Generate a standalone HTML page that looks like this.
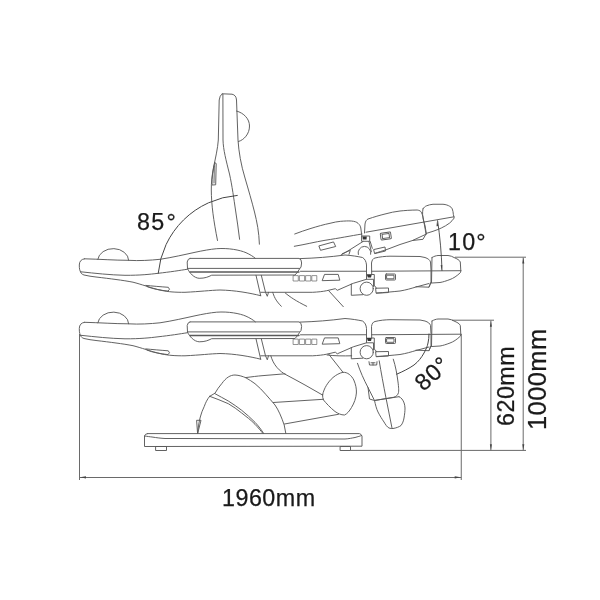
<!DOCTYPE html>
<html><head><meta charset="utf-8">
<style>
html,body{margin:0;padding:0;background:#fff;}
svg{display:block;will-change:transform;}
text{font-family:"Liberation Sans",sans-serif;fill:#1a1a1a;stroke:#1a1a1a;stroke-width:0.25;}
.d{stroke:#6a6a6a;stroke-width:1;fill:none;}
.a{stroke:#444;stroke-width:1.0;fill:none;}
.l{stroke:#5a5a5a;stroke-width:0.95;fill:none;stroke-linejoin:round;stroke-linecap:round;}
.k{fill:#333;stroke:none;}
</style></head><body>
<svg width="600" height="600" viewBox="0 0 600 600">
<defs>
<g id="flat">
  <!-- headrest top + hump -->
  <path d="M84.5 258.8 C100 259.2 115 260.3 128 260.3 C140 261 150 260.3 160 259.3 C172 257.5 185 254.5 195 252.3 C203 250.6 210 249.3 216.7 248.7 C228 247.8 240 250 246 252.7 C250 254.5 253 256.3 255.3 258.3"/>
  <path d="M84.5 258.8 Q79.4 259.5 79.3 265 Q79.2 271 80.8 272"/>
  <path d="M80.8 271.8 C95 273.3 110 275 125 275.3 C140 275.4 150 274.3 158 273.3 C170 272 180 270.4 187.5 269.2"/>
  <path d="M80.5 272 C81 273.5 82 274.3 84 275 C88 276 92 276.5 96 277 C103 277.8 110 278.7 116 279.5 C122 280.3 128 281.2 133 282.2 C137 283.2 141 284.5 146 286 C151 287.7 156 289.2 162 290.5 C168 291.8 175 292.4 185 292.3 C200 291.6 210 290.3 220 290 C235 290.3 250 293 260.7 295.7"/>
  <path d="M97.8 259.3 A15.5 12 0 0 1 128.7 260.3"/>
  <path d="M145.8 285.4 C152 286 160 286.7 168.3 287.3 Q170.8 289.3 168 291.1 C160 290.2 153 289 147 286.6"/>
  <!-- armrest -->
  <path d="M190 258.4 L299 258.4 Q301.6 259 301.6 263 Q301.5 268 299.5 269 Q298 272 295 275 L211.7 275.2 C208 277 205 278.3 199.2 278.3 C194 278 189.5 273 187.5 268.5 L187.2 262 Q187.8 258.5 190 258.4"/>
  <path d="M187.5 268.4 H299.5"/>
  <path d="M190 272 H299" style="stroke-width:1.4"/>
  <!-- seat top right of armrest -->
  <path d="M300 258.6 C315 258.2 330 257 345 255 C352 255.5 358 256.5 362.5 257.5 C365 259 366.2 261.5 366.5 265 L366.5 274.5"/>
  <path d="M300.5 271.3 L366.3 271.25 M371.7 271.25 L461 270.7"/>
  <path style="stroke-width:0.65" d="M293.5 275.6 h4.8 v5.4 h-4.8 z M299.8 275.6 h4.8 v5.4 h-4.8 z M306 275.6 h4.8 v5.4 h-4.8 z M312.2 275.6 h4.6 v5.4 h-4.6 z"/>
  <path d="M322.3 280.3 L324.5 274.4 L338.2 274.4 L339.7 279.8 Z"/>
  <!-- notch lines -->
  <path d="M256 275.3 L260.7 295.7 M261.3 275.3 L265.5 292.3 L267.3 296.3 L268.5 292.3"/>
  <path d="M260.7 292.3 L312.7 292.3 C318 292 323 291.5 326.7 290.7 L335.3 288.7 L337.3 290.3 L353.3 283.3 L366.5 279.3"/>
  <!-- joint -->
  <path d="M371.7 274.5 L371.5 263 C372 260 373 258.5 375 258 C380 256.8 385 256.3 390 256.2 C400 256.2 410 256.3 420 256.5 L425 257.5 C428 258.5 430 260 430.5 262 L431 270 L431 282 L429 287"/>
  <path class="k" d="M366.8 274.2 L371.8 274.2 L371 277.6 L367.8 277.6 Z"/>
  <path d="M366.5 274.5 L366.5 279.3 L373.5 279.3 L373.5 286.5 M371.7 274.5 L374.3 274.5 L374.3 286 L375.5 286.6 L376.3 288.3"/>
  <circle cx="366.7" cy="288.7" r="6.6"/>
  <path d="M351.3 284 L351.3 295.3 L362.7 294.7"/>
  
  <rect x="385.5" y="274" width="10" height="6" rx="0.8"/>
  <rect x="387" y="275.2" width="7" height="3.6"/>
  <path d="M376 288.2 L388.5 288 L388.5 292.5 L376.5 293.2 Z"/>
  <path d="M376.5 293 C385 292.5 392 291.8 400 291 C406 290 411 288.5 416 287 L429 283.5"/>
  <path d="M416 286.7 L429 287.2 L431 282.5"/>
  <!-- foot flat -->
  <path d="M432 257.5 C434 256.3 436 255.7 438 255.5 L448 255.5 C450.5 255.8 452.5 256.5 454 257.5 C457 258.8 459.5 260 460.3 262 L460.8 270.8 L460.5 272.5 C457 276 453 278.5 450 279.5 C446 281 443 282 440 282.5 L432 283"/>
  <path d="M432 257.5 L431.5 283"/>
</g>
</defs>

<!-- dimension lines -->
<g class="d">
  <path d="M79.5 334 V480"/>
  <path d="M79.5 477.5 H461.25"/>
  <path d="M461.25 334 V480"/>
  <path d="M455 257.2 H526"/>
  <path d="M523.2 257.5 V450.5"/>
  <path d="M452 320.2 H494"/>
  <path d="M490.9 320.5 V450.5"/>
  <path d="M350.5 450.4 H526"/>
</g>

<g fill="#444" stroke="none">
  <path d="M523.3 257.8 L524.3 263.5 L522.3 263.5 Z"/>
  <path d="M523.3 450 L524.3 444.3 L522.3 444.3 Z"/>
  <path d="M490.9 321 L491.9 326.7 L489.9 326.7 Z"/>
  <path d="M490.9 450 L491.9 444.3 L489.9 444.3 Z"/>
  <path d="M80 477.3 L86 476.2 L86 478.4 Z"/>
  <path d="M460.7 477.3 L454.7 476.2 L454.7 478.4 Z"/>
</g>
<text x="137" y="229.5" font-size="23.3" letter-spacing="1.2">85<tspan dx="1.2">°</tspan></text>
<text x="448" y="249.5" font-size="23.3" letter-spacing="1.2">10°</text>
<text x="222" y="505.5" font-size="23.3" letter-spacing="0.5">1960mm</text>
<text transform="translate(513.5,426) rotate(-90)" font-size="23.3" letter-spacing="0.5">620mm</text>
<text transform="translate(545.5,430) rotate(-90)" font-size="25.5" letter-spacing="0.4">1000mm</text>
<text transform="translate(423.5,392) rotate(-42)" font-size="23.3" letter-spacing="0.8">80°</text>

<g class="l">
  <use href="#flat"/>
  <use href="#flat" transform="translate(0,63.5)"/>
</g>

<g class="l" id="upper">
  <!-- backrest raised -->
  <path d="M222.2 93.8 L232 94.2 Q236.2 95 236.5 100 L238 140 C238.8 152 241 165 245 178 C248.5 190 252 202 254.5 212 C257 222 259 232 259.4 244.2"/>
  <path d="M222.2 93.8 Q219.6 95.5 219.2 100 L218.3 140 C217.8 148 215.5 158 213.6 167 C212 175 211.2 183 211.3 190 C211.4 205 213.5 220 217.5 240.5"/>
  <path d="M222.9 94.4 L223 140 C223.3 150 226 160 229.5 174 C232 185 234 200 235.5 210 C237 220 238.5 230 239.6 239.3"/>
  <path d="M236.5 111 C244 113 249.5 119 249.5 126 C249.5 134 244 140 238.5 141.5"/>
  <path d="M214.8 162.8 L216.2 163.5 L215.7 184.8 L212 185 C211.8 178 212.8 170 214.8 162.8 Z M214.3 166 L214 183"/>
  <!-- 85 arc -->
  <path class="a" d="M158.2 273.3 A85.8 85.8 0 0 1 237.3 195.4"/>
  <!-- hanging lines under seat -->
  <path d="M272.7 292.3 C274 296 275 300 281.3 306.3"/>
  <path d="M285.3 293 C290 297 296 301 306.7 306.3"/>
  <path d="M328.7 290.7 L343.3 306.7"/>
  <!-- raised thigh section -->
  <path d="M294.7 234 C300 232 305 230.3 310 228.7 C317 226.5 324 224.5 330 223.3 C334 222.3 337.5 221.5 340.7 221.3 C345 221 348 220.8 351.3 221 C354.5 221.3 356.8 222 358 223.3 C360 225 360.5 226.5 360.8 228 L361.8 236"/>
  <path d="M294.3 246.3 C305 244.5 315 242 325 240.3 C340 238 350 236 362 234"/>
  <path d="M319 246.3 L320.5 250.3 L335.7 246.5 L333.7 242.3 Z"/>
  <path d="M341 255 L349 250.3 L363 241.5"/>
  <path d="M342.3 253.7 L350.3 250.3 L349 254.3"/>
  <!-- joint upper raised -->
  <rect x="362" y="236" width="7.7" height="5.3"/>
  <path class="k" d="M362.5 236.5 L366.8 236.5 L366.5 239.5 L362.8 239.5 Z"/>
  <path d="M358.3 254.5 A6.4 6.4 0 1 1 370.7 254.3"/>
  <path d="M369 241.5 L371.3 251.7 M370.2 241.5 L372.3 248.3"/>
  <path d="M374 249.5 L385 247 L385.5 251 L375 253.5 Z"/>
  <!-- raised leg section -->
  <path d="M364.5 233 L365 224 C365.5 221 366.5 219.8 368 219 C374 217 380 215.2 385 214 C390 212.6 395 211.6 400 211 C405 210.5 410 210.1 417.2 210 C419.5 210.3 420.8 211.2 421.3 212.2 C422 213.5 422.5 215 422.8 216.3 C423.8 221 425 228 426 233.8"/>
  <path d="M366 232.2 L454 216.8"/>
  <path d="M375 253.3 C379 252 382 251 385.5 250 L400 244.5 L412.5 240.5 L426.5 234"/>
  <rect x="380.6" y="232.6" width="10.4" height="6.8" rx="0.8" transform="rotate(-8 385.8 236)"/>
  <rect x="382.3" y="233.9" width="7" height="4.2" transform="rotate(-8 385.8 236)"/>
  <path d="M412.5 240.5 L423 239.3 L426 234"/>
  <!-- raised foot -->
  <path d="M423 208.8 C424 207.3 425 206.5 426.3 205.9 C428.5 205 430.5 204.5 433 204.25 L443 204.25 C446 204.5 448 205.3 449.7 206.3 C451 207 451.8 207.8 452.2 208.8 C452.9 210.5 453.2 212.5 453.4 214.7 L454.2 218 C452.8 220 451.3 221.6 449.7 223 C447 225 444 226.8 441.3 228 C438.5 229.3 435.5 230.5 433 231.3 L426.3 233.4"/>
  <path d="M423 208.8 C422.6 210.8 422.5 212.8 422.6 214.7 C422.8 216.5 423 218.3 423.4 220 C423.9 222 424.5 223.8 425 225.5 L426.3 233.4"/>
  <!-- 10 deg line -->
  <path class="a" style="stroke-width:0.9" d="M437.6 220.7 C440 237 441.5 253 442 270.5"/>
  <path d="M437.1 220.5 L438.3 226 L436.5 226.2 Z M441.9 270.5 L442.3 265 L440.6 265.2 Z" style="fill:#444;stroke:none"/>
</g>

<g class="l" id="lower">
  <!-- hanging curves -->
  <path d="M270.8 355.8 C272 360 274 364 277 367.5 C280 371 283 373 285 374.2 C292 378 298 381 305 385 L322.5 395"/>
  <path d="M245.5 377.6 C252 376.8 258 376 262 375.7 L285 373.8"/>
  <path d="M328.7 354.2 L343 372.3"/>
  <path d="M327 355 C335 356 343 356 351.7 355.8"/>
  <!-- pedestal dome -->
  <path d="M209.7 396.3 L215 393.2 C217 390 219 386.5 221.7 383.7 C224 380.5 226 378.5 228.3 377 C230.5 375.7 232.5 375 235 375 C239 375.2 243 376.5 245.7 377.7 C249 379.5 252 381.5 255 383.7 C259 387 262.5 390.5 265.7 394.3 C269 398 272 401.5 275 405 C278.5 410 281.5 417 284.2 425 L285.8 433.3"/>
  <path d="M209.7 396.3 C207 399.5 205.5 403 204.3 406.3 C202.5 410 201.2 413.5 200.3 417 C199 422 198 428 197.7 433.3"/>
  <path d="M197 420.3 L201 420.3 L197.7 433.3 Z"/>
  <path d="M215 393.7 C219 396 224 398.5 228.3 401 C233 404 237.5 407 241.7 410.3 C246 414 251 418 255 422.3 C258.5 426 261.5 430 263.7 433.5"/>
  <path d="M209.7 396.3 C216 398.5 222 401 228.3 403.7 C233 406.5 237.5 409.5 241.7 413 C246 416.5 251 420 255 424.3 C258 427.5 261 431 263 433.5"/>
  <!-- arm lines -->
  <path d="M273.3 402.5 L323.3 399.3"/>
  <path d="M284.5 424 L338.5 414.3"/>
  <!-- rounded triangle -->
  <path d="M322.6 394.8 C324 388 328 382 333 377.5 C336 375 339.5 373 343 372.3 C347.5 372 351.5 375.5 353.8 380 C355.8 384.5 356.6 389 356.4 393 C356 398 354.3 403 351.5 407.5 C349.5 411 347 414 344.5 415 C341 415 338 413.5 335 411.5 C330 407.5 326 403 323.5 400 C322.8 398.5 322.5 396.5 322.6 394.8 Z"/>
  <!-- base plate -->
  <path d="M147.5 433.6 L359.5 433.6 Q361.5 434.2 362 436.2 L362 446.2 L144.5 446.5 L144.5 436 Q145 433.8 147.5 433.6"/>
  <path d="M144.5 436 C147 436.3 150 436.8 152 437 C157 437.8 161 438.3 165 438.5 L180 438.5 L345 439 C349 438.8 352 438 355 437.5 C358 436.7 360 436 361.5 435.6"/>
  <rect x="156" y="446.5" width="10.5" height="4"/>
  <rect x="340.5" y="446.5" width="10" height="4"/>
  <!-- lowered legs -->
  <path d="M357.5 363.3 C360 371 364 380 368 387.5 L369.5 399 L374.5 400.5 M368 387.5 L374.5 400.5"/>
  <path d="M379.2 360.8 C381 372 383.5 385 386 398 C388 408 390 418 392 428"/>
  <path d="M393.3 359.2 C395.5 366 397 374 398 382 C398.7 387 398.8 391 398.5 392.5 C398 395 396 396.8 393.5 397.3 L374.5 400.5"/>
  <path d="M374.5 400.5 L387 398.5 L399 396.7"/>
  <path d="M374.5 400.5 C375.5 405 376.5 409 378 412 C380 416 382 419 384 422 C385.5 424.5 387 427 389 428 C390.5 428.6 392 428.6 393 428.5 C396 428 399 427 401 425.5 C402.5 423.5 403.5 421 404 418 C404.7 414 405 411 405 408 C404.8 404 403.8 401.5 402 399 C401 397.8 400 397.2 399 396.7"/>
  <path d="M369 361.7 L369.5 365 L376.7 365 L377 361.7 M371 362.8 L375 362.8 M373 362.8 V365"/>
  <!-- 80 arc -->
  <path class="a" d="M396.7 374.2 C403 371.5 409 368.5 414 365 C418.5 361.5 421.5 357.5 424 353 C426 349.5 427.5 346 428 343 C428.7 340 429 337 429 334"/>
</g>
</svg>
</body></html>
